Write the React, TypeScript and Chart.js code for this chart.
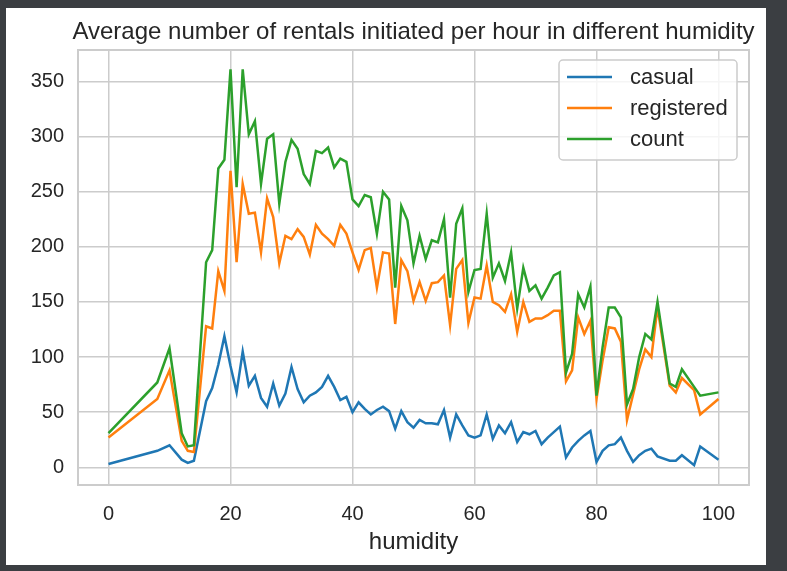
import React, { useEffect, useRef } from "react";
import { Chart, registerables } from "chart.js";

Chart.register(...registerables);

// ---------- data ----------
const humidity = [
  0, 8, 10, 12, 13, 14, 16, 17, 18, 19, 20, 21, 22, 23, 24, 25, 26, 27, 28, 29,
  30, 31, 32, 33, 34, 35, 36, 37, 38, 39, 40, 41, 42, 43, 44, 45, 46, 47, 48, 49,
  50, 51, 52, 53, 54, 55, 56, 57, 58, 59, 60, 61, 62, 63, 64, 65, 66, 67, 68, 69,
  70, 71, 72, 73, 74, 75, 76, 77, 78, 79, 80, 81, 82, 83, 84, 85, 86, 87, 88, 89,
  90, 92, 93, 94, 96, 97, 100,
];

const casual = [
  3, 15, 20, 7, 4, 6, 60, 72, 93, 119, 92, 68, 105, 74, 83, 63, 55, 76, 56, 67,
  91, 71, 59, 65, 68, 73, 83, 73, 61, 64, 50, 59, 53, 48, 52, 55, 51, 35, 51, 41,
  36, 43, 40, 40, 39, 52, 27, 48, 38, 29, 27, 29, 48, 26, 38, 31, 41, 23, 32, 30,
  33, 21, 27, 32, 37, 9, 18, 24, 29, 33, 5, 15, 20, 21, 27, 15, 5, 11, 15, 17,
  10, 6, 6, 11, 2, 19, 7,
];

const registered = [
  27, 62, 88, 24, 15, 14, 128, 126, 178, 160, 269, 186, 257, 230, 231, 195, 244, 227, 185, 210,
  207, 216, 209, 193, 220, 212, 207, 201, 220, 212, 195, 179, 197, 199, 163, 195, 194, 130, 188, 178,
  151, 168, 151, 167, 168, 174, 129, 180, 188, 131, 154, 153, 183, 150, 147, 141, 157, 123, 150, 132,
  135, 135, 138, 142, 142, 78, 88, 136, 121, 133, 62, 97, 127, 126, 114, 43, 66, 89, 107, 100,
  145, 74, 68, 81, 70, 48, 62,
];

const count = [
  31, 77, 108, 31, 19, 20, 186, 197, 271, 279, 361, 254, 361, 302, 314, 257, 298, 302, 239, 277,
  297, 289, 266, 257, 287, 285, 290, 272, 280, 277, 243, 237, 247, 245, 212, 250, 243, 163, 237, 224,
  185, 210, 189, 206, 204, 225, 154, 221, 235, 159, 179, 180, 230, 172, 185, 169, 195, 144, 181, 160,
  165, 153, 163, 174, 177, 86, 103, 157, 145, 164, 65, 109, 145, 145, 136, 57, 71, 100, 121, 116,
  150, 76, 73, 89, 73, 65, 68,
];

const seriesNames = ["casual", "registered", "count"];
const xTicks = [0, 20, 40, 60, 80, 100];
const yTicks = [0, 50, 100, 150, 200, 250, 300, 350];
const titleText = "Average number of rentals initiated per hour in different humidity";
const xLabel = "humidity";

// ---------- styles ----------
const COLORS = ["#1f77b4", "#ff7f0e", "#2ca02c"];
const FONT = "'Liberation Sans', Arial, Helvetica, sans-serif";
const TEXT = "#262626";
const GRID = "#cccccc";
const W = 787;
const H = 571;

const framePlugin = {
  id: "frame",
  beforeDraw(chart: any) {
    const ctx = chart.ctx;
    ctx.save();
    ctx.fillStyle = "#3b3e42";
    ctx.fillRect(0, 0, W, H);
    ctx.fillStyle = "#ffffff";
    ctx.fillRect(6, 8, 760, 557);
    ctx.restore();
  },
  afterDatasetsDraw(chart: any) {
    const { ctx, chartArea } = chart;
    ctx.save();
    ctx.strokeStyle = GRID;
    ctx.lineWidth = 2;
    ctx.strokeRect(
      chartArea.left,
      chartArea.top,
      chartArea.right - chartArea.left,
      chartArea.bottom - chartArea.top
    );
    ctx.restore();
  },
  afterDraw(chart: any) {
    const { ctx, chartArea } = chart;
    ctx.save();
    // title
    ctx.fillStyle = TEXT;
    ctx.font = `24px ${FONT}`;
    ctx.textAlign = "center";
    ctx.textBaseline = "alphabetic";
    ctx.fillText(titleText, (chartArea.left + chartArea.right) / 2, 39);

    // legend
    const bx = chartArea.right - 190;
    const by = chartArea.top + 10;
    const bw = 178;
    const bh = 100;
    const r = 4;
    ctx.beginPath();
    ctx.moveTo(bx + r, by);
    ctx.lineTo(bx + bw - r, by);
    ctx.arcTo(bx + bw, by, bx + bw, by + r, r);
    ctx.lineTo(bx + bw, by + bh - r);
    ctx.arcTo(bx + bw, by + bh, bx + bw - r, by + bh, r);
    ctx.lineTo(bx + r, by + bh);
    ctx.arcTo(bx, by + bh, bx, by + bh - r, r);
    ctx.lineTo(bx, by + r);
    ctx.arcTo(bx, by, bx + r, by, r);
    ctx.closePath();
    ctx.fillStyle = "rgba(255,255,255,0.8)";
    ctx.fill();
    ctx.strokeStyle = GRID;
    ctx.lineWidth = 1.5;
    ctx.stroke();

    ctx.font = `22px ${FONT}`;
    ctx.textAlign = "left";
    ctx.textBaseline = "middle";
    seriesNames.forEach((name, i) => {
      const y = by + 18 + i * 31;
      ctx.strokeStyle = COLORS[i];
      ctx.lineWidth = 2.5;
      ctx.beginPath();
      ctx.moveTo(bx + 8, y - 1);
      ctx.lineTo(bx + 53, y - 1);
      ctx.stroke();
      ctx.fillStyle = TEXT;
      ctx.fillText(name, bx + 71, y);
    });
    ctx.restore();
  },
};

export default function App() {
  const ref = useRef<HTMLCanvasElement | null>(null);

  useEffect(() => {
    document.body.style.margin = "0";
    const canvas = ref.current;
    if (!canvas) return;
    Chart.defaults.font.family = FONT;

    const series = [casual, registered, count];
    const chart = new Chart(canvas, {
      type: "line",
      data: {
        datasets: series.map((vals, i) => ({
          label: seriesNames[i],
          data: humidity.map((h, j) => ({ x: h, y: vals[j] })),
          borderColor: COLORS[i],
          backgroundColor: COLORS[i],
          borderWidth: 2.5,
          pointRadius: 0,
          pointHoverRadius: 0,
          fill: false,
          tension: 0,
          order: 2 - i,
        })),
      },
      options: {
        animation: false,
        responsive: false,
        devicePixelRatio: 1,
        events: [],
        layout: { padding: { left: 0, right: 38, top: 50, bottom: 0 } },
        plugins: {
          legend: { display: false },
          title: { display: false },
          tooltip: { enabled: false },
        },
        scales: {
          x: {
            type: "linear",
            min: -5,
            max: 105,
            afterBuildTicks: (s: any) => {
              s.ticks = xTicks.map((v) => ({ value: v }));
            },
            afterFit: (s: any) => {
              s.height = 86;
            },
            grid: { color: GRID, lineWidth: 1.5, drawTicks: false },
            border: { display: false },
            ticks: {
              font: { size: 20 },
              color: TEXT,
              padding: 17,
              maxRotation: 0,
              autoSkip: false,
            },
            title: {
              display: true,
              text: xLabel,
              color: TEXT,
              font: { size: 24 },
              padding: { top: 0, bottom: 14 },
            },
          },
          y: {
            type: "linear",
            min: -16,
            max: 378.5,
            afterBuildTicks: (s: any) => {
              s.ticks = yTicks.map((v) => ({ value: v }));
            },
            afterFit: (s: any) => {
              s.width = 78;
            },
            grid: { color: GRID, lineWidth: 1.5, drawTicks: false },
            border: { display: false },
            ticks: {
              font: { size: 20 },
              color: TEXT,
              padding: 14,
              autoSkip: false,
            },
          },
        },
      },
      plugins: [framePlugin],
    } as any);

    return () => chart.destroy();
  }, []);

  return (
    <div style={{ position: "fixed", left: 0, top: 0, width: W, height: H }}>
      <canvas ref={ref} width={W} height={H} style={{ display: "block", width: W, height: H }} />
    </div>
  );
}
